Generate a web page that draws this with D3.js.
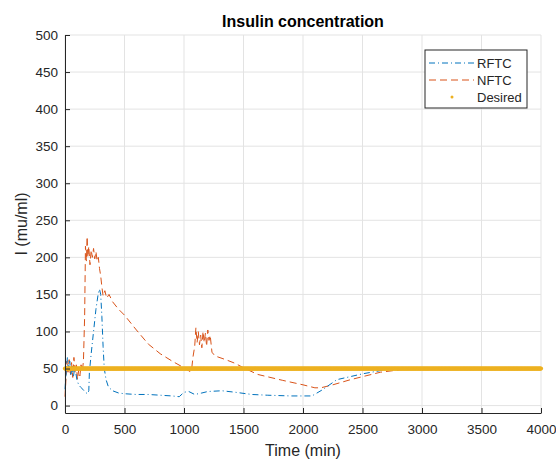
<!DOCTYPE html>
<html>
<head>
<meta charset="utf-8">
<script src="https://cdn.jsdelivr.net/npm/d3@7"></script>
<style>
  body { margin: 0; background: #fff; }
  svg { font-family: 'Liberation Sans', Arial, Helvetica, sans-serif; }
</style>
</head>
<body>
<div id="chart"></div>
<script>
// Time (min) / insulin (mu/ml)
const rftcTime = [0, 10, 20, 30, 40, 50, 60, 70, 80, 90, 100, 115, 130, 150, 170, 190, 200, 205, 220, 240, 260, 280, 290, 300, 310, 320, 330, 345, 365, 400, 450, 500, 600, 700, 800, 900, 960, 1000, 1040, 1090, 1150, 1200, 1320, 1430, 1570, 1700, 1900, 2075, 2160, 2285, 2395, 2505, 2645, 2720]
const rftcValue = [22, 45, 65, 48, 60, 42, 55, 38, 50, 45, 35, 28, 25, 22, 18, 16, 20, 45, 70, 100, 130, 152, 157, 150, 120, 80, 50, 35, 25, 20, 17, 16, 15, 15, 14, 13, 12, 18, 19, 15, 17, 19, 20, 18, 15, 14, 13, 13, 21, 35, 39, 43, 47, 50]

const nftcTime = [0, 8, 15, 25, 35, 45, 55, 65, 75, 85, 95, 105, 115, 125, 135, 145, 155, 165, 172, 180, 186, 192, 200, 210, 220, 230, 240, 250, 260, 270, 280, 290, 300, 310, 320, 335, 350, 370, 400, 450, 500, 600, 700, 800, 900, 1000, 1050, 1065, 1075, 1090, 1100, 1110, 1120, 1130, 1140, 1150, 1160, 1170, 1180, 1190, 1200, 1210, 1220, 1235, 1260, 1350, 1430, 1500, 1620, 1830, 2000, 2100, 2150, 2250, 2400, 2500, 2650, 2800, 2870]
const nftcValue = [12, 35, 60, 45, 62, 40, 58, 38, 65, 45, 55, 35, 48, 40, 55, 45, 60, 120, 215, 195, 228, 200, 215, 190, 210, 200, 212, 198, 208, 195, 200, 185, 175, 160, 148, 155, 145, 150, 140, 130, 122, 102, 83, 70, 60, 51, 46, 50, 65, 80, 105, 85, 100, 82, 95, 78, 100, 85, 98, 80, 102, 88, 95, 72, 67, 62, 57, 51, 42, 34, 28, 24, 24, 28, 35, 39, 45, 48, 50]

const desiredLevel = 50
const desiredTimes = d3.range(0, 4001, 5)   // marker positions of the set point

const xTicks = [0, 500, 1000, 1500, 2000, 2500, 3000, 3500, 4000]
const yTicks = [0, 50, 100, 150, 200, 250, 300, 350, 400, 450, 500]

const W = 556, H = 459
const margin = { top: 35, right: 15, bottom: 46, left: 65 }
const width = W - margin.left - margin.right
const height = H - margin.top - margin.bottom

const colors = { rftc: '#0072BD', nftc: '#D95319', desired: '#EDB120' }
const axisColor = '#262626'

const svg = d3.select('#chart').append('svg')
    .attr('width', W)
    .attr('height', H)

const g = svg.append('g')
    .attr('transform', `translate(${margin.left}, ${margin.top})`)

const x = d3.scaleLinear().domain([0, 4000]).range([0, width])
const y = d3.scaleLinear().domain([-10, 500]).range([height, 0])

// grid
g.append('g').selectAll('line').data(xTicks).enter().append('line')
    .attr('x1', d => x(d)).attr('x2', d => x(d))
    .attr('y1', 0).attr('y2', height)
    .attr('stroke', '#e3e3e3').attr('stroke-width', 1)
g.append('g').selectAll('line').data(yTicks).enter().append('line')
    .attr('x1', 0).attr('x2', width)
    .attr('y1', d => y(d)).attr('y2', d => y(d))
    .attr('stroke', '#e3e3e3').attr('stroke-width', 1)

// series
const line = d3.line().x(d => x(d[0])).y(d => y(d[1]))

g.append('path')
    .datum(nftcTime.map((t, i) => [t, nftcValue[i]]))
    .attr('d', line)
    .attr('fill', 'none')
    .attr('stroke', colors.nftc)
    .attr('stroke-width', 1)
    .attr('stroke-dasharray', '7,4')

g.append('path')
    .datum(rftcTime.map((t, i) => [t, rftcValue[i]]))
    .attr('d', line)
    .attr('fill', 'none')
    .attr('stroke', colors.rftc)
    .attr('stroke-width', 1)
    .attr('stroke-dasharray', '6,3,1,3')

g.append('g').selectAll('circle')
    .data(desiredTimes).enter().append('circle')
    .attr('cx', d => x(d))
    .attr('cy', y(desiredLevel))
    .attr('r', 2.1)
    .attr('fill', colors.desired)

// axes (MATLAB style: inward ticks, no box on top/right)
const xAxis = g.append('g')
    .attr('transform', `translate(0, ${height})`)
    .call(d3.axisBottom(x).tickValues(xTicks).tickSizeInner(-5).tickSizeOuter(0).tickPadding(11).tickFormat(d3.format('d')))
const yAxis = g.append('g')
    .call(d3.axisLeft(y).tickValues(yTicks).tickSizeInner(-5).tickSizeOuter(0).tickPadding(7).tickFormat(d3.format('d')))

;[xAxis, yAxis].forEach(a => {
    a.select('.domain').attr('stroke', axisColor)
    a.selectAll('.tick line').attr('stroke', axisColor)
    a.selectAll('.tick text').attr('fill', axisColor).style('font-size', '13.5px')
})

// labels
svg.append('text')
    .attr('x', margin.left + width / 2).attr('y', 27)
    .attr('text-anchor', 'middle')
    .style('font-size', '16px').style('font-weight', 'bold')
    .attr('fill', '#000')
    .text('Insulin concentration')

svg.append('text')
    .attr('x', margin.left + width / 2).attr('y', 456)
    .attr('text-anchor', 'middle')
    .style('font-size', '16px')
    .attr('fill', axisColor)
    .text('Time (min)')

svg.append('text')
    .attr('transform', `translate(27, ${margin.top + height / 2}) rotate(-90)`)
    .attr('text-anchor', 'middle')
    .style('font-size', '16px')
    .attr('fill', axisColor)
    .text('I (mu/ml)')

// legend
const legendItems = [
    { name: 'RFTC', color: colors.rftc, dash: '6,3,1,3', type: 'line' },
    { name: 'NFTC', color: colors.nftc, dash: '7,4', type: 'line' },
    { name: 'Desired', color: colors.desired, type: 'dot' }
]
const legend = svg.append('g').attr('transform', 'translate(425, 50)')
legend.append('rect')
    .attr('width', 102).attr('height', 58)
    .attr('fill', '#fff').attr('stroke', axisColor).attr('stroke-width', 1)

const items = legend.selectAll('g.item').data(legendItems).enter().append('g')
    .attr('class', 'item')
    .attr('transform', (d, i) => `translate(0, ${13 + i * 17})`)
items.filter(d => d.type === 'line').append('line')
    .attr('x1', 4).attr('x2', 49)
    .attr('stroke', d => d.color).attr('stroke-width', 1)
    .attr('stroke-dasharray', d => d.dash)
items.filter(d => d.type === 'dot').append('circle')
    .attr('cx', 27).attr('r', 1.5).attr('fill', d => d.color)
items.append('text')
    .attr('x', 52).attr('dy', '0.35em')
    .style('font-size', '13px').attr('fill', axisColor)
    .text(d => d.name)
</script>
</body>
</html>
